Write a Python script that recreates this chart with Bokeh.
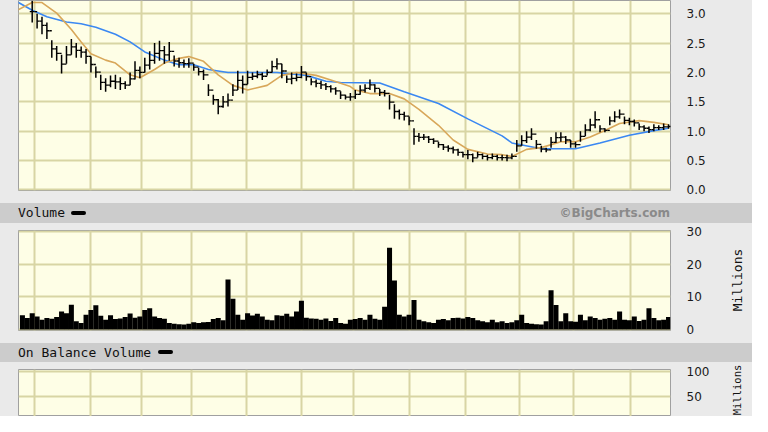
from bokeh.plotting import figure
from bokeh.models import Range1d, FixedTicker, PrintfTickFormatter, Div
from bokeh.layouts import column, row
from bokeh.embed import file_html
from bokeh.resources import INLINE

# ---------------- data (trading-day index) ----------------
price_day = list(range(0, 131))
price_high = [3.22, 3.00, 2.95, 2.85, 2.55, 2.45, 2.30, 2.45, 2.57, 2.50,
              2.44, 2.40, 2.27, 2.10, 1.96, 1.90, 1.95, 1.96, 1.92, 1.85,
              2.00, 2.19, 2.10, 2.25, 2.36, 2.50, 2.54, 2.45, 2.52, 2.29,
              2.25, 2.22, 2.24, 2.15, 2.08, 2.05, 1.80, 1.62, 1.55, 1.60,
              1.64, 1.80, 2.03, 1.95, 2.03, 2.00, 2.03, 2.00, 2.05, 2.20,
              2.24, 2.15, 1.95, 2.00, 1.98, 2.11, 2.00, 1.90, 1.88, 1.86,
              1.82, 1.78, 1.75, 1.68, 1.62, 1.65, 1.70, 1.78, 1.80, 1.88,
              1.80, 1.72, 1.70, 1.62, 1.46, 1.37, 1.33, 1.25, 1.05, 0.97,
              0.95, 0.92, 0.88, 0.82, 0.78, 0.76, 0.74, 0.70, 0.65, 0.68,
              0.62, 0.65, 0.62, 0.60, 0.62, 0.60, 0.60, 0.60, 0.62, 0.85,
              0.93, 1.00, 1.05, 0.85, 0.75, 0.72, 0.90, 0.98, 0.98, 0.92,
              0.85, 0.82, 1.00, 1.12, 1.21, 1.34, 1.10, 1.05, 1.25, 1.34,
              1.37, 1.25, 1.23, 1.20, 1.13, 1.10, 1.08, 1.12, 1.10, 1.13,
              1.12]
price_low = [2.85, 2.75, 2.65, 2.57, 2.25, 2.20, 1.98, 2.15, 2.30, 2.25,
             2.25, 2.15, 2.00, 1.91, 1.70, 1.67, 1.75, 1.72, 1.70, 1.72,
             1.78, 1.88, 1.90, 2.00, 2.05, 2.15, 2.20, 2.15, 2.20, 2.10,
             2.08, 2.08, 2.08, 2.03, 1.95, 1.87, 1.60, 1.45, 1.29, 1.40,
             1.42, 1.60, 1.70, 1.64, 1.80, 1.87, 1.90, 1.87, 1.95, 2.00,
             2.05, 1.90, 1.82, 1.80, 1.85, 1.90, 1.86, 1.78, 1.75, 1.72,
             1.70, 1.66, 1.62, 1.55, 1.54, 1.52, 1.55, 1.62, 1.66, 1.70,
             1.66, 1.60, 1.59, 1.37, 1.21, 1.20, 1.18, 1.10, 0.77, 0.82,
             0.85, 0.80, 0.78, 0.72, 0.68, 0.65, 0.62, 0.58, 0.55, 0.52,
             0.47, 0.55, 0.52, 0.50, 0.52, 0.50, 0.50, 0.49, 0.52, 0.65,
             0.75, 0.80, 0.85, 0.70, 0.64, 0.64, 0.72, 0.80, 0.82, 0.78,
             0.72, 0.72, 0.82, 0.92, 1.00, 1.05, 0.98, 0.98, 1.10, 1.15,
             1.21, 1.12, 1.10, 1.08, 1.02, 1.00, 0.97, 1.00, 1.02, 1.02,
             1.04]

ma_fast_day = [-3, 0, 2, 5, 8, 10, 12, 15, 17, 20, 22, 25, 27, 30, 32, 35, 38,
               41, 44, 48, 51, 54, 58, 61, 65, 66, 69, 73, 76, 79, 83, 86, 89,
               93, 96, 98, 101, 104, 108, 111, 114, 117, 120, 124, 127, 130]
ma_fast = [3.06, 3.19, 3.19, 3.01, 2.73, 2.52, 2.32, 2.21, 2.16, 1.96, 1.91,
           2.05, 2.16, 2.24, 2.27, 2.19, 1.96, 1.78, 1.70, 1.78, 1.95, 2.00,
           1.95, 1.87, 1.76, 1.70, 1.64, 1.64, 1.55, 1.37, 1.10, 0.85, 0.69,
           0.61, 0.60, 0.57, 0.69, 0.72, 0.82, 0.82, 0.90, 1.01, 1.13, 1.18,
           1.15, 1.11]

ma_slow_day = [-3, 0, 3, 7, 10, 13, 17, 20, 23, 27, 30, 33, 36, 40, 50, 56, 60,
               63, 71, 76, 83, 89, 96, 98, 104, 111, 116, 122, 127, 130]
ma_slow = [3.20, 3.06, 2.95, 2.86, 2.83, 2.77, 2.65, 2.52, 2.35, 2.21, 2.13,
           2.13, 2.05, 2.00, 2.00, 1.95, 1.85, 1.83, 1.82, 1.67, 1.47, 1.21,
           0.92, 0.80, 0.70, 0.70, 0.80, 0.93, 1.01, 1.05]

vol_day = list(range(-2, 131))
vol_millions = [4.4, 3.5, 5.0, 4.0, 3.0, 3.5, 3.3, 3.8, 5.5, 5.0,
                7.6, 2.5, 2.0, 4.5, 6.0, 7.4, 4.2, 3.0, 4.4, 3.2,
                3.4, 3.8, 4.9, 3.6, 4.0, 6.0, 6.5, 4.0, 3.5, 3.3,
                2.0, 1.8, 1.6, 1.5, 1.8, 2.2, 2.0, 2.2, 2.3, 3.2,
                3.5, 2.8, 15.3, 9.4, 4.5, 3.0, 5.0, 4.3, 4.8, 4.0,
                3.0, 2.8, 4.4, 4.2, 4.8, 4.0, 5.5, 8.8, 3.6, 3.4,
                3.3, 3.0, 3.4, 2.6, 3.5, 2.0, 1.8, 3.0, 3.2, 3.5,
                3.0, 4.5, 3.3, 3.0, 7.0, 25.0, 15.0, 4.5, 4.0, 4.5,
                9.0, 3.0, 2.5, 2.2, 2.0, 3.0, 3.2, 2.8, 3.5, 3.6,
                3.4, 3.8, 3.5, 2.8, 2.5, 2.2, 3.0, 2.2, 2.5, 2.0,
                2.2, 2.8, 4.5, 2.0, 1.8, 1.6, 1.5, 2.5, 12.0, 7.5,
                2.5, 5.0, 2.5, 2.4, 4.5, 2.8, 4.0, 3.5, 3.0, 3.3,
                3.5, 3.0, 5.5, 3.0, 2.8, 4.0, 2.6, 3.0, 6.5, 3.5,
                2.8, 3.0, 3.8]

month_ticks = [0.4, 12, 22.4, 32.6, 43.8, 55, 65.6, 77, 88.6, 99.6, 110.6, 122.2]
price_ticks = [0.0, 0.5, 1.0, 1.5, 2.0, 2.5, 3.0]
vol_ticks = [0, 10, 20, 30]
obv_ticks = [50, 100]

assert len(price_high) == len(price_low) == len(price_day)
assert len(vol_day) == len(vol_millions)
assert len(ma_fast_day) == len(ma_fast) and len(ma_slow_day) == len(ma_slow)

# ---------------- styling ----------------
W = 752
SIDE = 30                      # strip to the right holding the "Millions" captions
PAGE = "#eaeaea"
PLOT_BG = "#fefee6"
GRID = "#d8d5a4"
BAR_HDR = "#cccccc"
TICK_FONT = "DejaVu Sans"
MONO = "DejaVu Sans Mono"

x_range = Range1d(-2.8, 130.4)


def make_fig(width, right, height, y_range, ticks, fmt, top, bottom):
    p = figure(width=width, height=height, x_range=x_range, y_range=y_range,
               output_backend="svg", toolbar_location=None,
               x_axis_location=None, y_axis_location="right",
               min_border_left=18, min_border_right=right,
               min_border_top=top, min_border_bottom=bottom)
    p.background_fill_color = PLOT_BG
    p.border_fill_color = PAGE
    p.outline_line_color = "#a0a0a0"
    p.outline_line_width = 1
    p.xgrid.ticker = FixedTicker(ticks=month_ticks)
    p.yaxis.ticker = FixedTicker(ticks=ticks)
    p.yaxis.formatter = PrintfTickFormatter(format=fmt)
    for g in (p.xgrid, p.ygrid):
        g.grid_line_color = GRID
        g.grid_line_width = 2
    ax = p.yaxis[0]
    ax.axis_line_color = None
    ax.major_tick_line_color = None
    ax.minor_tick_line_color = None
    ax.major_label_standoff = 10
    ax.major_label_text_font = TICK_FONT
    ax.major_label_text_font_size = "12px"
    ax.major_label_text_color = "#1a1a1a"
    return p


def side_caption(text, height, center_y, size):
    html = (
        f'<div style="position:relative;width:{SIDE}px;height:{height}px;background:{PAGE};overflow:hidden;">'
        f'<div style="position:absolute;left:15px;top:{center_y}px;transform:translate(-50%,-50%) rotate(-90deg);'
        f'white-space:nowrap;font-family:\'{MONO}\';font-size:{size};color:#111;line-height:1;">{text}</div>'
        f'</div>'
    )
    return Div(text=html, width=SIDE, height=height, margin=0)


def header(text_left, legend_left, right_text="", h=20):
    html = (
        f'<div style="position:relative;width:{W}px;height:{h}px;background:{BAR_HDR};'
        f'font-family:\'{MONO}\';font-size:13px;color:#111;line-height:{h}px;">'
        f'<span style="position:absolute;left:18px;top:0px;">{text_left}</span>'
        f'<span style="position:absolute;left:{legend_left}px;top:{h // 2 - 2}px;width:15px;height:4px;'
        f'background:#000;border-radius:2px;"></span>'
    )
    if right_text:
        html += (f'<span style="position:absolute;right:82px;top:0px;font-family:\'DejaVu Sans\';'
                 f'font-weight:bold;font-size:12px;color:#8a8a8a;">{right_text}</span>')
    html += '</div>'
    return html


# price panel
p_price = make_fig(W, 82, 203, Range1d(-0.01, 3.225), price_ticks, "%.1f", 0, 13)
p_price.line(ma_slow_day, ma_slow, line_color="#3b88f2", line_width=1.6)
p_price.line(ma_fast_day, ma_fast, line_color="#d8a75a", line_width=1.6)
mid = [(h + l) / 2 for h, l in zip(price_high, price_low)]
prev_mid = [mid[0]] + mid[:-1]
p_price.segment(x0=price_day, y0=price_low, x1=price_day, y1=price_high,
                line_color="black", line_width=1.5)
p_price.segment(x0=[d - 0.5 for d in price_day], y0=prev_mid, x1=price_day, y1=prev_mid,
                line_color="black", line_width=1.3)
p_price.segment(x0=price_day, y0=mid, x1=[d + 0.5 for d in price_day], y1=mid,
                line_color="black", line_width=1.3)

div_vol = Div(text=header("Volume", 71, "©BigCharts.com", 20), width=W, height=20, margin=0)

# volume panel
p_vol = make_fig(W - SIDE, 82 - SIDE, 120, Range1d(-0.3, 30.3), vol_ticks, "%d", 7, 13)
p_vol.vbar(x=vol_day, top=vol_millions, bottom=0, width=1.03,
           fill_color="black", line_color=None)
vol_row = row(p_vol, side_caption("Millions", 120, 57, "13px"), spacing=0)

div_obv = Div(text=header("On Balance Volume", 158, "", 19), width=W, height=19, margin=0)

# on balance volume panel (only its top part is visible)
p_obv = make_fig(W - SIDE, 82 - SIDE, 54, Range1d(9.6, 103.8), obv_ticks, "%d", 7, 0)
obv_row = row(p_obv, side_caption("Millions", 54, 28, "10.5px"), spacing=0)

layout = column(p_price, div_vol, vol_row, div_obv, obv_row, spacing=0)
layout.styles = {"background-color": PAGE}

open("out.html", "w").write(file_html(layout, INLINE))
